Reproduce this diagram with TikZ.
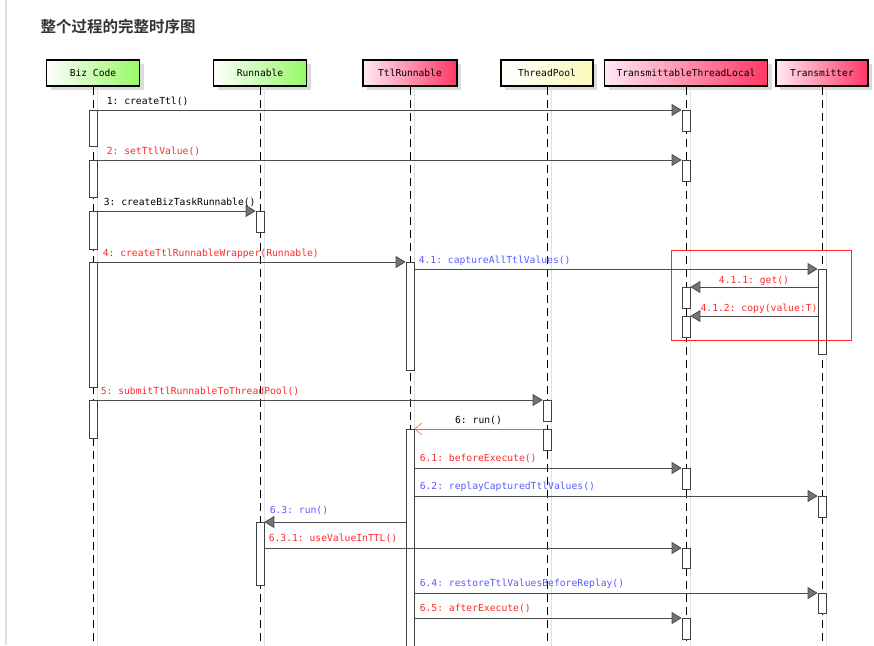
\documentclass[tikz,border=0pt]{standalone}
\usepackage{fontspec}
\setmonofont{DejaVu Sans Mono}
\newfontfamily\cjk{Noto Sans CJK SC}[BoldFont={Noto Sans CJK SC Bold}]
\usepackage{tikz}
\usetikzlibrary{arrows.meta,shadows}
\definecolor{bizgreen}{RGB}{150,250,100}
\definecolor{ttlred}{RGB}{255,55,100}
\definecolor{ttlpink}{RGB}{255,232,245}
\definecolor{poolyel}{RGB}{250,250,185}
\definecolor{msgred}{RGB}{255,40,40}
\definecolor{msgblue}{RGB}{90,90,255}
\definecolor{runorange}{RGB}{225,110,60}
\tikzset{
  part/.style={draw=black, line width=1.5pt, minimum height=26pt, inner sep=0pt,
    font=\ttfamily\fontsize{9.6}{11}\selectfont,
    drop shadow={shadow xshift=4pt, shadow yshift=-4pt, fill=black!14, opacity=1}},
  greenbox/.style={part, left color=white, right color=bizgreen},
  redbox/.style={part, left color=ttlpink, right color=ttlred},
  yellowbox/.style={part, left color=white, right color=poolyel},
  life/.style={line width=0.9pt, dash pattern=on 8pt off 5pt},
  lifeshade/.style={black!12, line width=1pt},
  act/.style={draw=black!75, fill=white, line width=0.7pt, minimum width=8pt, inner sep=0pt},
  msg/.style={draw=black!70, line width=0.8pt, -{Triangle[length=10pt,width=12pt,fill=black!55]}},
  async/.style={draw=runorange, line width=0.6pt, -{Straight Barb[length=7pt,width=12pt]}},
  lbl/.style={font=\ttfamily\fontsize{9.7}{11}\selectfont, inner sep=0pt, anchor=base west, xshift=6pt, yshift=5.5pt},
  lblc/.style={font=\ttfamily\fontsize{9.7}{11}\selectfont, inner sep=0pt, anchor=base, yshift=5pt},
  hlbox/.style={draw=red!85, line width=0.8pt, inner sep=0pt}
}

\begin{document}
\begin{tikzpicture}[x=1pt, y=-1pt]
	\useasboundingbox (0,0) rectangle (874,645);
	\draw[black!12, line width=1.5pt] (6,0) -- (6,645);
	\node[anchor=west, text=black!80, font=\cjk\bfseries\fontsize{15.5}{18}\selectfont] (title) at (37,27) {整个过程的完整时序图};

	% participants
	\node[greenbox, minimum width=93pt] (biz) at (93,73) {Biz Code};
	\node[greenbox, minimum width=93pt] (run) at (260,73) {Runnable};
	\node[redbox, minimum width=94pt] (ttlr) at (410,73) {TtlRunnable};
	\node[yellowbox, minimum width=92pt] (pool) at (547,73) {ThreadPool};
	\node[redbox, minimum width=163pt] (ttl) at (686,73) {TransmittableThreadLocal};
	\node[redbox, minimum width=92pt] (trans) at (822,73) {Transmitter};

	% lifelines
	\foreach \p in {biz,run,ttlr,pool,ttl,trans}{
		\coordinate (\p-end) at (\p.south |- 0,650);
		\draw[lifeshade] ([xshift=4pt]\p.south) -- ([xshift=4pt]\p-end);
		\draw[life] (\p.south) -- (\p-end);
	}

	% activations
	\foreach \n/\x/\a/\b in {b1/93/110/146, b2/93/160/197, b3/93/211/249, b4/93/262/387, b5/93/400/438,
			r1/260/211/232, r2/260/522/585, t1/410/262/370, t2/410/429/660,
			p1/547/400/421, p2/547/429/450,
			l1/686/110/131, l2/686/160/181, l3/686/287/308, l4/686/316/337, l5/686/468/489, l6/686/548/568, l7/686/618/639,
			m1/822/269/354, m2/822/496/517, m3/822/593/613}
		\node[act, anchor=north, minimum height={(\b-\a)*1pt}] (\n) at (\x,\a) {};

	\node[hlbox, anchor=north west, minimum width=180pt, minimum height=90pt] (hl) at (671,250) {};

	% messages
	\draw[msg] (b1.north east) -- node[lbl, pos=0, xshift=3pt] (n1) {1: createTtl()} (l1.north west);
	\draw[msg] (b2.north east) -- node[lbl, pos=0, xshift=3pt, text=msgred] (n2) {2: setTtlValue()} (l2.north west);
	\draw[msg] (b3.north east) -- node[lbl, pos=0] (n3) {3: createBizTaskRunnable()} (r1.north west);
	\draw[msg] (b4.north east) -- node[lbl, pos=0, xshift=-1pt, text=msgred] (n4) {4: createTtlRunnableWrapper(Runnable)} (t1.north west);
	\draw[msg] (t1.east |- m1.north) -- node[lbl, pos=0, xshift=-2pt, text=msgblue] (n41) {4.1: captureAllTtlValues()} (m1.north west);
	\draw[msg] (m1.west |- l3.north) -- node[lblc, yshift=-1.5pt, text=msgred] (n411) {4.1.1: get()} (l3.north east);
	\draw[msg] (m1.west |- l4.north) -- node[lblc, xshift=5pt, text=msgred] (n412) {4.1.2: copy(value:T)} (l4.north east);
	\draw[msg] (b5.north east) -- node[lbl, pos=0, xshift=-3pt, text=msgred] (n5) {5: submitTtlRunnableToThreadPool()} (p1.north west);
	\draw[async] (p2.north west) -- node[lblc, yshift=1pt] (n6) {6: run()} (t2.north east);
	\draw[msg] (t2.east |- l5.north) -- node[lbl, pos=0, xshift=-1pt, yshift=1pt, text=msgred] (n61) {6.1: beforeExecute()} (l5.north west);
	\draw[msg] (t2.east |- m2.north) -- node[lbl, pos=0, xshift=-1pt, yshift=1pt, text=msgblue] (n62) {6.2: replayCapturedTtlValues()} (m2.north west);
	\draw[msg] (t2.west |- r2.north) -- node[lbl, pos=1, xshift=-1pt, yshift=3.5pt, text=msgblue] (n63) {6.3: run()} (r2.north east);
	\draw[msg] (r2.east |- l6.north) -- node[lbl, pos=0, xshift=-2pt, yshift=1pt, text=msgred] (n631) {6.3.1: useValueInTTL()} (l6.north west);
	\draw[msg] (t2.east |- m3.north) -- node[lbl, pos=0, xshift=-1pt, yshift=1pt, text=msgblue] (n64) {6.4: restoreTtlValuesBeforeReplay()} (m3.north west);
	\draw[msg] (t2.east |- l7.north) -- node[lbl, pos=0, xshift=-1pt, yshift=1pt, text=msgred] (n65) {6.5: afterExecute()} (l7.north west);
\end{tikzpicture}
\end{document}
